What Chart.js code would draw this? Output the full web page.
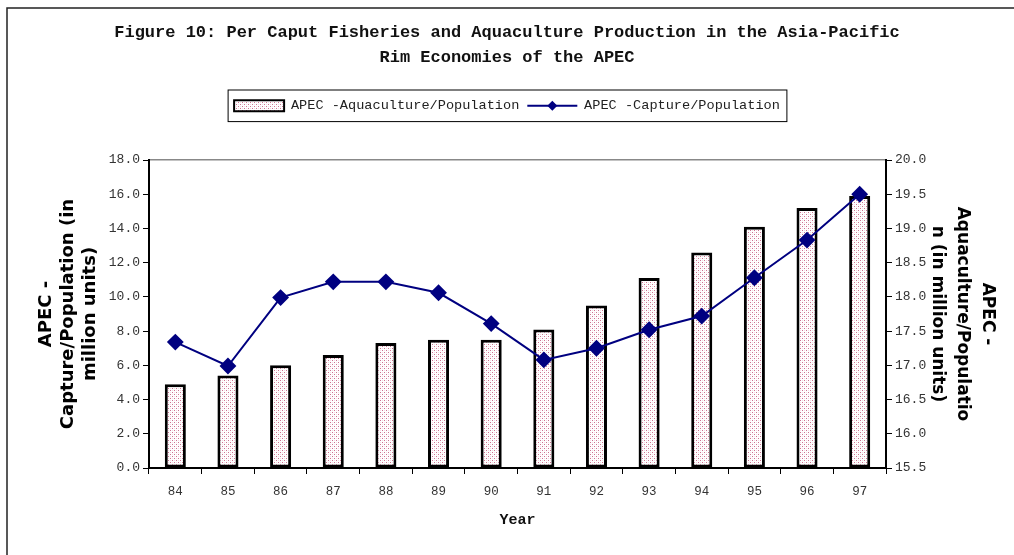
<!DOCTYPE html>
<html>
<head>
<meta charset="utf-8">
<script src="https://cdn.jsdelivr.net/npm/chart.js@4.4.0/dist/chart.umd.min.js"></script>
<style>
  body { margin: 0; background: #fff; }
  canvas { display: block; }
</style>
</head>
<body>
<canvas id="apec" width="1014" height="555"></canvas>
<script>
var years = ['84', '85', '86', '87', '88', '89', '90', '91', '92', '93', '94', '95', '96', '97'];
var aquaculture = [4.9, 5.4, 6.0, 6.6, 7.3, 7.5, 7.5, 8.1, 9.5, 11.1, 12.6, 14.1, 15.2, 15.9];
var capture = [17.34, 16.99, 17.99, 18.22, 18.22, 18.06, 17.61, 17.08, 17.25, 17.52, 17.72, 18.28, 18.83, 19.50];

var titleLines = ['Figure 10: Per Caput Fisheries and Aquaculture Production in the Asia-Pacific', 'Rim Economies of the APEC'];
var leftTitle = ['APEC -', 'Capture/Population (in', 'million units)'];
var rightTitle = ['APEC -', 'Aquaculture/Populatio', 'n (in million units)'];

var navy = '#000080';

// pink dotted fill like the old excel pattern
function dotPattern(ctx){
    var c = document.createElement('canvas');
    c.width = 4; c.height = 4;
    var p = c.getContext('2d');
    p.fillStyle = '#fff';
    p.fillRect(0, 0, 4, 4);
    p.fillStyle = 'rgb(205,115,145)';
    p.fillRect(0, 0, 1, 1);
    p.fillRect(2, 2, 1, 1);
    p.fillStyle = 'rgb(245,220,228)';
    p.fillRect(2, 0, 1, 1);
    p.fillRect(0, 2, 1, 1);
    return ctx.createPattern(c, 'repeat');
}

var ctx = document.getElementById('apec').getContext('2d');
var pattern = dotPattern(ctx);

var frame = {
    id: 'frame',
    afterDraw: function(chart){
        var c = chart.ctx;
        c.save();
        // outer border (top + left visible)
        c.strokeStyle = '#222';
        c.lineWidth = 1.5;
        c.beginPath();
        c.moveTo(7, 555); c.lineTo(7, 8); c.lineTo(1014, 8);
        c.stroke();

        // legend box and line swatch
        var boxes = chart.legend.legendHitBoxes;
        if (boxes && boxes.length) {
            var first = boxes[0], last = boxes[boxes.length - 1];
            c.strokeStyle = '#000';
            c.lineWidth = 1;
            var top = first.top - 9, bottom = first.top + first.height + 9;
            c.strokeRect(first.left - 6, top, last.left + last.width + 7 - (first.left - 6), bottom - top);

            var b = boxes[1];
            var cy = b.top + b.height / 2;
            c.strokeStyle = navy;
            c.lineWidth = 2;
            c.beginPath();
            c.moveTo(b.left, cy); c.lineTo(b.left + 50, cy);
            c.stroke();
            c.fillStyle = navy;
            c.beginPath();
            var mx = b.left + 25;
            c.moveTo(mx, cy - 5); c.lineTo(mx + 5, cy); c.lineTo(mx, cy + 5); c.lineTo(mx - 5, cy);
            c.closePath();
            c.fill();
        }
        c.restore();
    }
};

new Chart(ctx, {
    data: {
        labels: years,
        datasets: [
            {
                type: 'bar',
                label: 'APEC -Aquaculture/Population',
                data: aquaculture,
                backgroundColor: pattern,
                borderColor: '#000',
                borderWidth: 3,
                borderSkipped: false,
                barPercentage: 0.4,
                categoryPercentage: 1,
                yAxisID: 'y',
                order: 1
            },
            {
                type: 'line',
                label: 'APEC -Capture/Population',
                data: capture,
                borderColor: navy,
                backgroundColor: navy,
                borderWidth: 2,
                pointStyle: 'rectRot',
                pointRadius: 7,
                pointBackgroundColor: navy,
                pointBorderColor: navy,
                tension: 0,
                yAxisID: 'y2',
                order: 0
            }
        ]
    },
    options: {
        responsive: false,
        animation: false,
        devicePixelRatio: 1,
        layout: { padding: 0 },
        plugins: {
            tooltip: { enabled: false },
            title: {
                display: true,
                text: titleLines,
                color: '#111',
                font: { family: 'Liberation Mono', size: 17, weight: 'bold', lineHeight: '25px' },
                padding: { top: 20, bottom: 21 }
            },
            legend: {
                display: true,
                labels: {
                    font: { family: 'Liberation Mono', size: 13.6 },
                    color: '#222',
                    boxWidth: 50,
                    boxHeight: 11,
                    padding: 8,
                    generateLabels: function(chart){
                        var items = Chart.defaults.plugins.legend.labels.generateLabels(chart);
                        items.sort(function(a, b){ return a.datasetIndex - b.datasetIndex; });
                        items.forEach(function(it){
                            if (it.datasetIndex === 0) {
                                it.fillStyle = pattern;
                                it.strokeStyle = '#000';
                                it.lineWidth = 2;
                            } else {
                                it.fillStyle = 'rgba(0,0,0,0)';
                                it.strokeStyle = 'rgba(0,0,0,0)';
                                it.lineWidth = 0;
                            }
                        });
                        return items;
                    }
                }
            }
        },
        scales: {
            x: {
                type: 'category',
                position: 'bottom',
                offset: true,
                grid: { offset: true, drawOnChartArea: false, drawTicks: true, tickLength: 6, color: '#000' },
                border: { display: true, color: '#000', width: 2 },
                ticks: { color: '#333', font: { family: 'Liberation Mono', size: 12.5 }, padding: 10, maxRotation: 0 },
                title: {
                    display: true,
                    text: 'Year',
                    color: '#111',
                    font: { family: 'Liberation Mono', size: 15, weight: 'bold' },
                    padding: { top: 0, bottom: 26 }
                },
                afterFit: function(s){ s.height = 87; }
            },
            xTop: {
                type: 'category',
                position: 'top',
                grid: { display: false },
                ticks: { display: false },
                border: { display: true, color: '#888', width: 1.5 },
                afterFit: function(s){ s.height = 37.4; }
            },
            y: {
                position: 'left',
                min: 0,
                max: 18,
                ticks: {
                    stepSize: 2,
                    color: '#333',
                    font: { family: 'Liberation Mono', size: 13 },
                    padding: 3,
                    callback: function(v){ return v.toFixed(1); }
                },
                grid: { drawOnChartArea: false, tickLength: 6, color: '#000' },
                border: { display: true, color: '#000', width: 2 },
                title: {
                    display: true,
                    text: leftTitle,
                    color: '#000',
                    font: { family: 'DejaVu Sans', size: 18, weight: 'bold', lineHeight: '22px' },
                    padding: { top: 35, bottom: 0 }
                },
                afterFit: function(s){ s.width = 149; }
            },
            y2: {
                position: 'right',
                min: 15.5,
                max: 20,
                ticks: {
                    stepSize: 0.5,
                    color: '#333',
                    font: { family: 'Liberation Mono', size: 13 },
                    padding: 3,
                    callback: function(v){ return v.toFixed(1); }
                },
                grid: { drawOnChartArea: false, tickLength: 6, color: '#000' },
                border: { display: true, color: '#000', width: 2 },
                title: {
                    display: true,
                    text: rightTitle,
                    color: '#000',
                    font: { family: 'DejaVu Sans', size: 17, weight: 'bold', lineHeight: '25px' },
                    padding: { top: 14, bottom: 0 }
                },
                afterFit: function(s){ s.width = 128; }
            }
        }
    },
    plugins: [frame]
});
</script>
</body>
</html>
